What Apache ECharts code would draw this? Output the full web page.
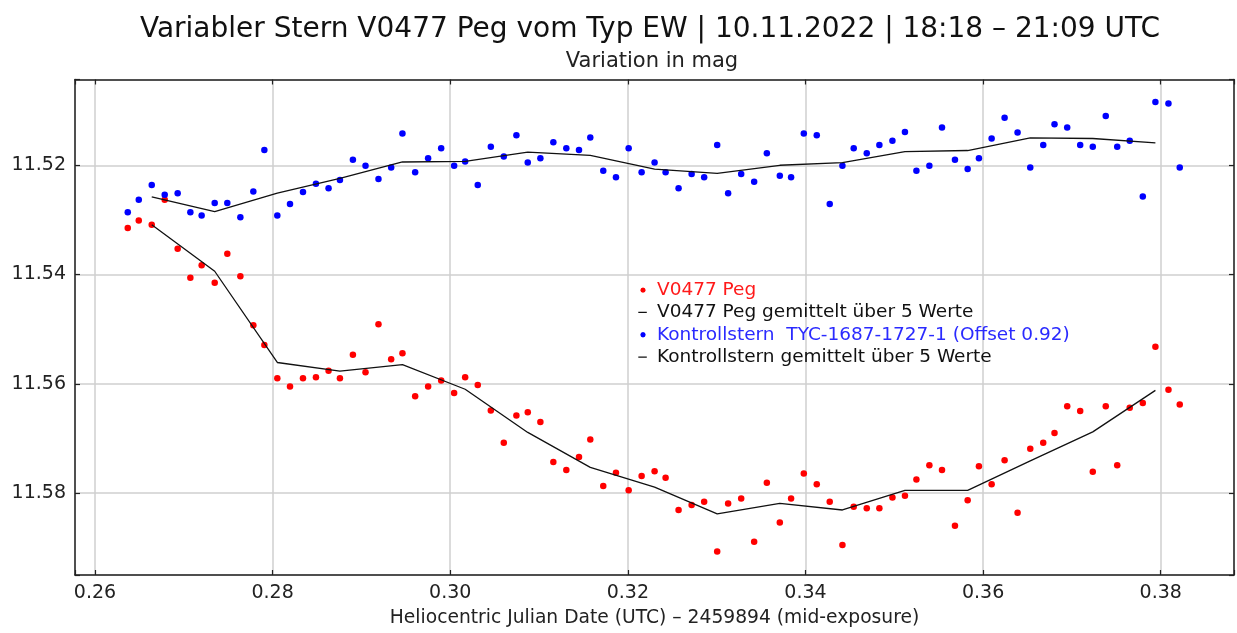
<!DOCTYPE html>
<html><head><meta charset="utf-8">
<script src="https://cdn.jsdelivr.net/npm/echarts@6/dist/echarts.min.js"></script>
<style>html,body{margin:0;padding:0;background:#fff}#c{width:1237px;height:633px}</style>
</head><body><div id="c"></div>
<script>
// Heliocentric JD - 2459894 of each exposure
const jd = [
0.26369,0.26493,0.26639,0.26785,0.26931,0.27074,0.27201,0.27348,0.27490,0.27637,
0.27783,0.27907,0.28053,0.28196,0.28342,0.28488,0.28630,0.28758,0.28904,0.29046,
0.29192,0.29335,0.29462,0.29605,0.29751,0.29898,0.30044,0.30168,0.30310,0.30457,
0.30603,0.30745,0.30873,0.31015,0.31161,0.31307,0.31450,0.31577,0.31723,0.31866,
0.32009,0.32155,0.32301,0.32425,0.32571,0.32718,0.32859,0.33006,0.33129,0.33276,
0.33422,0.33565,0.33711,0.33838,0.33981,0.34127,0.34273,0.34416,0.34543,0.34690,
0.34832,0.34979,0.35120,0.35249,0.35395,0.35537,0.35683,0.35826,0.35953,0.36096,
0.36242,0.36388,0.36531,0.36677,0.36804,0.36947,0.37093,0.37235,0.37381,0.37510,
0.37651,0.37798,0.37940,0.38087,0.38214];
// V0477 Peg magnitudes
const v0477 = [
11.5315,11.5301,11.5309,11.5263,11.5353,11.5406,11.5383,11.5415,11.5362,11.5403,
11.5493,11.5529,11.5590,11.5605,11.5590,11.5588,11.5576,11.5590,11.5547,11.5579,
11.5491,11.5555,11.5544,11.5623,11.5605,11.5594,11.5617,11.5588,11.5602,11.5649,
11.5708,11.5658,11.5652,11.5670,11.5743,11.5758,11.5734,11.5702,11.5787,11.5763,
11.5795,11.5769,11.5760,11.5772,11.5831,11.5822,11.5816,11.5907,11.5819,11.5810,
11.5889,11.5781,11.5854,11.5810,11.5764,11.5784,11.5816,11.5895,11.5825,11.5828,
11.5828,11.5808,11.5805,11.5775,11.5749,11.5758,11.5860,11.5813,11.5751,11.5784,
11.5740,11.5836,11.5719,11.5708,11.5690,11.5641,11.5650,11.5761,11.5641,11.5749,
11.5644,11.5635,11.5532,11.5611,11.5638];
// Kontrollstern magnitudes (offset 0.92)
const kontroll = [
11.5286,11.5263,11.5236,11.5254,11.5251,11.5286,11.5292,11.5269,11.5269,11.5295,
11.5248,11.5172,11.5292,11.5271,11.5249,11.5234,11.5242,11.5227,11.5190,11.5201,
11.5225,11.5204,11.5142,11.5213,11.5187,11.5169,11.5201,11.5193,11.5236,11.5166,
11.5184,11.5145,11.5195,11.5187,11.5158,11.5169,11.5172,11.5149,11.5210,11.5222,
11.5169,11.5213,11.5195,11.5213,11.5242,11.5216,11.5222,11.5163,11.5251,11.5216,
11.5230,11.5178,11.5219,11.5222,11.5142,11.5145,11.5271,11.5201,11.5169,11.5178,
11.5163,11.5155,11.5139,11.5210,11.5201,11.5131,11.5190,11.5207,11.5187,11.5151,
11.5113,11.5140,11.5204,11.5163,11.5125,11.5131,11.5163,11.5166,11.5110,11.5166,
11.5155,11.5257,11.5084,11.5087,11.5204];
// averages over 5 values
const avgJd = [0.26639,0.27348,0.28053,0.28758,0.29462,0.30168,0.30873,0.31577,0.32301,0.33006,0.33711,0.34416,0.35120,0.35826,0.36531,0.37235,0.37940];
const v0477Avg = [11.5309,11.5394,11.5561,11.5577,11.5565,11.5610,11.5689,11.5753,11.5789,11.5838,11.5819,11.5831,11.5795,11.5795,11.5741,11.5688,11.5612];
const kontrollAvg = [11.5258,11.5285,11.5251,11.5224,11.5194,11.5193,11.5176,11.5182,11.5207,11.5215,11.5200,11.5195,11.5175,11.5173,11.5150,11.5151,11.5159];
// tick labels
const xTickValues = [0.26,0.28,0.30,0.32,0.34,0.36,0.38];
const xTickLabels = ['0.26','0.28','0.30','0.32','0.34','0.36','0.38'];
const yTickValues = [11.52,11.54,11.56,11.58];
const yTickLabels = ['11.52','11.54','11.56','11.58'];
const seriesNames = ['V0477 Peg','V0477 Peg gemittelt über 5 Werte','Kontrollstern  TYC-1687-1727-1 (Offset 0.92)','Kontrollstern gemittelt über 5 Werte'];

const xMin = 0.25775, xMax = 0.38825, yMin = 11.5043, yMax = 11.5950;
const font = 'DejaVu Sans';
const axisColor = '#222';
function fmt(vals, labels){
  return function(v){ for (let i=0;i<vals.length;i++){ if (Math.abs(vals[i]-v)<1e-7) return labels[i]; } return ''; };
}
const dotIcon = 'path://M0,0L0,0ZM14,6L14,6ZM7.7,3L6.91,4.91L5,5.7L3.09,4.91L2.3,3L3.09,1.09L5,0.3L6.91,1.09Z';
const dashIcon = 'path://M0,0L0,0ZM14,6L14,6ZM0.3,2.35H8.8V3.65H0.3Z';
const axisCommon = {
  type:'value', axisLine:{show:true,onZero:false,lineStyle:{color:axisColor,width:1.5}},
  axisTick:{show:true,inside:true,length:5,lineStyle:{color:axisColor,width:1.2}}
};
const chart = echarts.init(document.getElementById('c'), null, {renderer:'canvas'});
chart.setOption({
  animation:false,
  backgroundColor:'#fff',
  textStyle:{fontFamily:font},
  title:[
    {text:'Variabler Stern V0477 Peg vom Typ EW | 10.11.2022 | 18:18 – 21:09 UTC', left:650, top:16, textAlign:'center', padding:0,
     textStyle:{fontFamily:font,fontSize:28,fontWeight:'normal',color:'#111'}},
    {text:'Variation in mag', left:652, top:51, textAlign:'center', padding:0,
     textStyle:{fontFamily:font,fontSize:21,fontWeight:'normal',color:'#222'}}
  ],
  grid:{left:75,right:2,top:79.5,bottom:55,containLabel:false},
  legend:{
    orient:'vertical', left:638, top:279, padding:0, itemGap:0, itemWidth:14, itemHeight:6,
    textStyle:{fontFamily:font,fontSize:18.5,lineHeight:22.3,color:'#111'},
    data:[
      {name:seriesNames[0], icon:dotIcon, itemStyle:{color:'#ff0000'}, textStyle:{color:'#ff1a1a'}},
      {name:seriesNames[1], icon:dashIcon, itemStyle:{color:'#111'}},
      {name:seriesNames[2], icon:dotIcon, itemStyle:{color:'#0000ff'}, textStyle:{color:'#2a2aff'}},
      {name:seriesNames[3], icon:dashIcon, itemStyle:{color:'#111'}}
    ]
  },
  xAxis:[
    Object.assign({}, axisCommon, {position:'bottom', min:xMin, max:xMax, splitNumber:6,
      name:'Heliocentric Julian Date (UTC) – 2459894 (mid-exposure)', nameLocation:'middle', nameGap:34,
      nameTextStyle:{fontFamily:font,fontSize:18.7,color:'#222'},
      axisLabel:{fontFamily:font,fontSize:19,color:'#222',margin:9,formatter:fmt(xTickValues,xTickLabels)},
      splitLine:{show:true,lineStyle:{color:'#cfcfcf',width:1.5}}}),
    Object.assign({}, axisCommon, {position:'top', min:xMin, max:xMax, splitNumber:6,
      axisLabel:{show:false}, splitLine:{show:false}})
  ],
  yAxis:[
    Object.assign({}, axisCommon, {position:'left', inverse:true, min:yMin, max:yMax, splitNumber:5,
      axisLabel:{fontFamily:font,fontSize:19,color:'#222',margin:9,formatter:fmt(yTickValues,yTickLabels)},
      splitLine:{show:true,lineStyle:{color:'#cfcfcf',width:1.5}}}),
    Object.assign({}, axisCommon, {position:'right', inverse:true, min:yMin, max:yMax, splitNumber:5,
      axisLabel:{show:false}, splitLine:{show:false}})
  ],
  series:[
    {name:seriesNames[0], type:'scatter', symbol:'circle', symbolSize:6.5,
     data:jd.map((x,i)=>[x,v0477[i]]), itemStyle:{color:'#ff0000',opacity:1}, z:2},
    {name:seriesNames[1], type:'line', symbol:'none', showSymbol:false,
     data:avgJd.map((x,i)=>[x,v0477Avg[i]]), lineStyle:{color:'#111',width:1.3}, itemStyle:{color:'#111'}, z:3},
    {name:seriesNames[2], type:'scatter', symbol:'circle', symbolSize:6.5,
     data:jd.map((x,i)=>[x,kontroll[i]]), itemStyle:{color:'#0000ff',opacity:1}, z:2},
    {name:seriesNames[3], type:'line', symbol:'none', showSymbol:false,
     data:avgJd.map((x,i)=>[x,kontrollAvg[i]]), lineStyle:{color:'#111',width:1.3}, itemStyle:{color:'#111'}, z:3}
  ]
});
</script></body></html>
